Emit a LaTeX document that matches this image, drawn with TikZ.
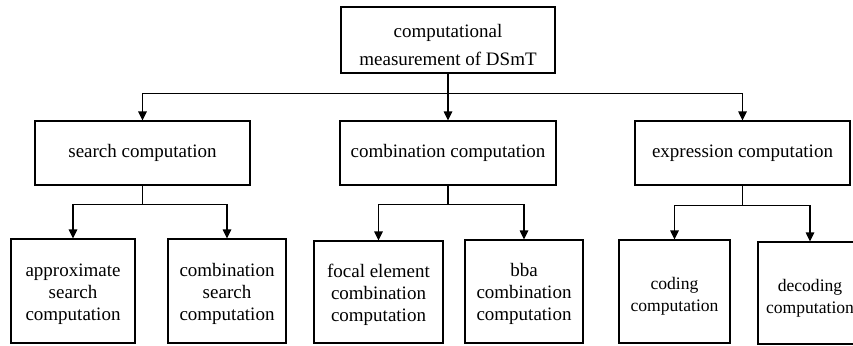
\documentclass[tikz,border=0pt]{standalone}
\usepackage{fontspec}
\setmainfont{Liberation Serif}
\usepackage{tikz}
\usetikzlibrary{arrows.meta}
\tikzstyle{block} = [rectangle, draw=black, line width=1.1pt, inner sep=0pt, align=center, font=\fontsize{19}{23}\selectfont]
\tikzstyle{leaf} = [block, font=\fontsize{19}{22}\selectfont]
\tikzstyle{arrow} = [line width=1.1pt, -{Triangle[length=9pt,width=8.5pt]}]

\begin{document}
\begin{tikzpicture}[x=1pt, y=-1pt]
    \useasboundingbox (0,0) rectangle (853,345);
    \clip (0,0) rectangle (853,345);
    % Nodes
    \node (root) [block, font=\fontsize{19}{28}\selectfont, minimum width=214pt, minimum height=66pt] at (448,40) {\rule{0pt}{24pt}computational\\measurement of DSmT};
    \node (search) [block, minimum width=215pt, minimum height=64pt] at (142.5,153) {search computation};
    \node (comb) [block, minimum width=216pt, minimum height=64pt] at (448,153) {combination computation};
    \node (expr) [block, minimum width=215pt, minimum height=64pt] at (742.5,153) {expression computation};
    \node (approx) [leaf, minimum width=124pt, minimum height=104pt] at (73,291) {\rule{0pt}{19pt}approximate\\search\\computation};
    \node (csearch) [leaf, minimum width=118pt, minimum height=104pt] at (227,291) {\rule{0pt}{19pt}combination\\search\\computation};
    \node (focal) [leaf, minimum width=129pt, minimum height=102pt] at (378.5,292) {\rule{0pt}{19pt}focal element\\combination\\computation};
    \node (bba) [leaf, minimum width=118pt, minimum height=103pt] at (524,291.5) {\rule{0pt}{19pt}bba\\combination\\computation};
    \node (coding) [leaf, font=\fontsize{17.6}{22}\selectfont, minimum width=111pt, minimum height=103pt] at (674.5,291.5) {\rule{0pt}{22pt}coding\\computation};
    \node (decoding) [leaf, font=\fontsize{17.6}{22}\selectfont, minimum width=104pt, minimum height=102pt] at (810,293) {\rule{0pt}{22pt}decoding\\computation};

    % Arrows
    \draw [arrow] (root.south) -- ++(0,19.5) -| (search.north);
    \draw [arrow] (root.south) -- (comb.north);
    \draw [arrow] (root.south) -- ++(0,19.5) -| (expr.north);
    \draw [arrow] (search.south) -- ++(0,19) -| (approx.north);
    \draw [arrow] (search.south) -- ++(0,19) -| (csearch.north);
    \draw [arrow] (comb.south) -- ++(0,19) -| (focal.north);
    \draw [arrow] (comb.south) -- ++(0,19) -| (bba.north);
    \draw [arrow] (expr.south) -- ++(0,20) -| (coding.north);
    \draw [arrow] (expr.south) -- ++(0,20) -| (decoding.north);
\end{tikzpicture}
\end{document}
